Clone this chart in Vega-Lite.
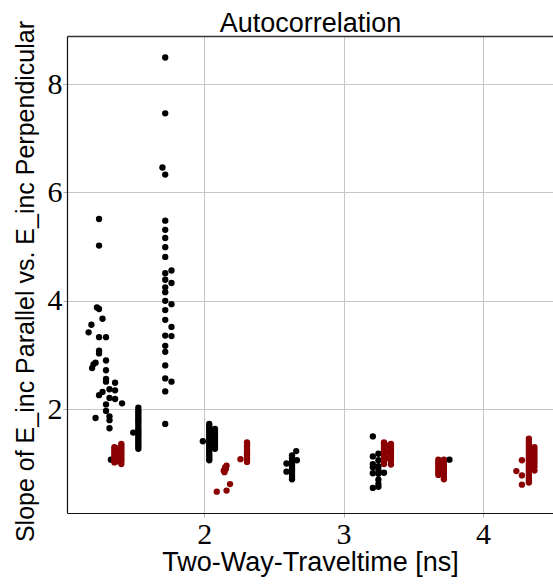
{
  "$schema": "https://vega.github.io/schema/vega-lite/v6.json",
  "width": 486,
  "height": 477,
  "autosize": {"type": "none"},
  "padding": {"left": 67, "top": 36, "right": 0, "bottom": 71},
  "background": "white",
  "config": {
    "view": {"stroke": null},
    "axis": {
      "labelFont": "Liberation Serif", "labelFontSize": 30, "labelColor": "black",
      "gridColor": "#c6c6c6", "gridWidth": 1,
      "tickColor": "#b0b0b0", "tickSize": 4, "tickWidth": 1,
      "domainColor": "#111111", "domainWidth": 1.2,
      "titleFont": "Liberation Sans", "titleFontWeight": "normal", "titleColor": "black"
    }
  },
  "data": {"values": [
    {"t":1.245,"slope":5.51,"g":"s1"},{"t":1.245,"slope":5.02,"g":"s1"},{"t":1.23,"slope":3.88,"g":"s1"},{"t":1.245,"slope":3.85,"g":"s1"},
    {"t":1.27,"slope":3.67,"g":"s1"},{"t":1.19,"slope":3.56,"g":"s1"},{"t":1.17,"slope":3.42,"g":"s1"},{"t":1.245,"slope":3.33,"g":"s1"},
    {"t":1.295,"slope":3.33,"g":"s1"},{"t":1.245,"slope":3.08,"g":"s1"},{"t":1.245,"slope":3.03,"g":"s1"},{"t":1.295,"slope":2.90,"g":"s1"},
    {"t":1.22,"slope":2.86,"g":"s1"},{"t":1.205,"slope":2.83,"g":"s1"},{"t":1.195,"slope":2.76,"g":"s1"},{"t":1.295,"slope":2.72,"g":"s1"},
    {"t":1.295,"slope":2.56,"g":"s1"},{"t":1.295,"slope":2.51,"g":"s1"},{"t":1.36,"slope":2.49,"g":"s1"},{"t":1.32,"slope":2.37,"g":"s1"},
    {"t":1.36,"slope":2.35,"g":"s1"},{"t":1.27,"slope":2.32,"g":"s1"},{"t":1.245,"slope":2.26,"g":"s1"},{"t":1.32,"slope":2.21,"g":"s1"},
    {"t":1.36,"slope":2.19,"g":"s1"},{"t":1.41,"slope":2.11,"g":"s1"},{"t":1.295,"slope":2.09,"g":"s1"},{"t":1.295,"slope":1.97,"g":"s1"},
    {"t":1.22,"slope":1.84,"g":"s1"},{"t":1.32,"slope":1.87,"g":"s1"},{"t":1.32,"slope":1.80,"g":"s1"},{"t":1.32,"slope":1.65,"g":"s1"},
    {"t":1.33,"slope":1.07,"g":"s1"},
    {"t":1.527,"slope":2.03,"g":"s1"},{"t":1.527,"slope":1.98,"g":"s1"},{"t":1.527,"slope":1.94,"g":"s1"},{"t":1.527,"slope":1.90,"g":"s1"},
    {"t":1.527,"slope":1.86,"g":"s1"},{"t":1.527,"slope":1.82,"g":"s1"},{"t":1.527,"slope":1.79,"g":"s1"},{"t":1.527,"slope":1.75,"g":"s1"},
    {"t":1.527,"slope":1.71,"g":"s1"},{"t":1.527,"slope":1.66,"g":"s1"},{"t":1.527,"slope":1.62,"g":"s1"},{"t":1.527,"slope":1.58,"g":"s1"},
    {"t":1.527,"slope":1.55,"g":"s1"},{"t":1.527,"slope":1.51,"g":"s1"},{"t":1.527,"slope":1.47,"g":"s1"},{"t":1.527,"slope":1.43,"g":"s1"},
    {"t":1.527,"slope":1.39,"g":"s1"},{"t":1.527,"slope":1.35,"g":"s1"},{"t":1.527,"slope":1.31,"g":"s1"},{"t":1.527,"slope":1.27,"g":"s1"},
    {"t":1.49,"slope":1.57,"g":"s1"},
    {"t":1.72,"slope":8.49,"g":"s1"},{"t":1.72,"slope":7.46,"g":"s1"},{"t":1.70,"slope":6.46,"g":"s1"},{"t":1.72,"slope":6.33,"g":"s1"},
    {"t":1.72,"slope":5.48,"g":"s1"},{"t":1.72,"slope":5.31,"g":"s1"},{"t":1.72,"slope":5.16,"g":"s1"},{"t":1.72,"slope":4.99,"g":"s1"},
    {"t":1.72,"slope":4.81,"g":"s1"},{"t":1.765,"slope":4.56,"g":"s1"},{"t":1.72,"slope":4.51,"g":"s1"},{"t":1.72,"slope":4.39,"g":"s1"},
    {"t":1.765,"slope":4.33,"g":"s1"},{"t":1.72,"slope":4.25,"g":"s1"},{"t":1.72,"slope":4.16,"g":"s1"},{"t":1.72,"slope":4.00,"g":"s1"},
    {"t":1.765,"slope":3.94,"g":"s1"},{"t":1.72,"slope":3.83,"g":"s1"},{"t":1.72,"slope":3.65,"g":"s1"},{"t":1.765,"slope":3.52,"g":"s1"},
    {"t":1.72,"slope":3.36,"g":"s1"},{"t":1.765,"slope":3.35,"g":"s1"},{"t":1.72,"slope":3.17,"g":"s1"},{"t":1.72,"slope":3.06,"g":"s1"},
    {"t":1.72,"slope":2.81,"g":"s1"},{"t":1.72,"slope":2.57,"g":"s1"},{"t":1.765,"slope":2.51,"g":"s1"},{"t":1.72,"slope":2.33,"g":"s1"},
    {"t":1.72,"slope":1.73,"g":"s1"},
    {"t":2.036,"slope":1.73,"g":"s1"},{"t":2.036,"slope":1.69,"g":"s1"},{"t":2.036,"slope":1.65,"g":"s1"},{"t":2.036,"slope":1.61,"g":"s1"},
    {"t":2.036,"slope":1.57,"g":"s1"},{"t":2.036,"slope":1.53,"g":"s1"},{"t":2.036,"slope":1.49,"g":"s1"},{"t":2.036,"slope":1.45,"g":"s1"},
    {"t":2.036,"slope":1.41,"g":"s1"},{"t":2.036,"slope":1.37,"g":"s1"},{"t":2.036,"slope":1.33,"g":"s1"},{"t":2.036,"slope":1.29,"g":"s1"},
    {"t":2.036,"slope":1.25,"g":"s1"},{"t":2.036,"slope":1.21,"g":"s1"},{"t":2.036,"slope":1.17,"g":"s1"},{"t":2.036,"slope":1.13,"g":"s1"},
    {"t":2.036,"slope":1.09,"g":"s1"},{"t":2.036,"slope":1.06,"g":"s1"},
    {"t":2.077,"slope":1.64,"g":"s1"},{"t":2.077,"slope":1.60,"g":"s1"},{"t":2.077,"slope":1.56,"g":"s1"},{"t":2.077,"slope":1.52,"g":"s1"},
    {"t":2.077,"slope":1.48,"g":"s1"},{"t":2.077,"slope":1.44,"g":"s1"},{"t":2.077,"slope":1.40,"g":"s1"},{"t":2.077,"slope":1.36,"g":"s1"},
    {"t":2.077,"slope":1.32,"g":"s1"},{"t":2.077,"slope":1.27,"g":"s1"},{"t":1.99,"slope":1.41,"g":"s1"},
    {"t":2.63,"slope":1.15,"g":"s1"},{"t":2.63,"slope":1.11,"g":"s1"},{"t":2.63,"slope":1.07,"g":"s1"},{"t":2.63,"slope":1.03,"g":"s1"},
    {"t":2.63,"slope":0.99,"g":"s1"},{"t":2.63,"slope":0.95,"g":"s1"},{"t":2.63,"slope":0.91,"g":"s1"},{"t":2.63,"slope":0.87,"g":"s1"},
    {"t":2.63,"slope":0.83,"g":"s1"},{"t":2.63,"slope":0.79,"g":"s1"},{"t":2.63,"slope":0.75,"g":"s1"},{"t":2.63,"slope":0.71,"g":"s1"},
    {"t":2.59,"slope":1.00,"g":"s1"},{"t":2.59,"slope":0.85,"g":"s1"},{"t":2.66,"slope":1.23,"g":"s1"},{"t":2.665,"slope":1.06,"g":"s1"},
    {"t":3.21,"slope":1.50,"g":"s1"},{"t":3.21,"slope":1.13,"g":"s1"},{"t":3.25,"slope":1.18,"g":"s1"},{"t":3.21,"slope":0.99,"g":"s1"},
    {"t":3.21,"slope":0.93,"g":"s1"},{"t":3.21,"slope":0.82,"g":"s1"},{"t":3.25,"slope":0.81,"g":"s1"},{"t":3.29,"slope":0.83,"g":"s1"},
    {"t":3.25,"slope":0.70,"g":"s1"},{"t":3.25,"slope":0.62,"g":"s1"},{"t":3.21,"slope":0.55,"g":"s1"},{"t":3.25,"slope":0.57,"g":"s1"},
    {"t":3.25,"slope":1.06,"g":"s1"},{"t":3.25,"slope":0.95,"g":"s1"},{"t":3.25,"slope":0.88,"g":"s1"},
    {"t":3.76,"slope":1.07,"g":"s1"},
    {"t":1.355,"slope":1.30,"g":"s2"},{"t":1.355,"slope":1.26,"g":"s2"},{"t":1.355,"slope":1.22,"g":"s2"},{"t":1.355,"slope":1.18,"g":"s2"},
    {"t":1.355,"slope":1.14,"g":"s2"},{"t":1.355,"slope":1.10,"g":"s2"},{"t":1.355,"slope":1.06,"g":"s2"},{"t":1.355,"slope":1.02,"g":"s2"},
    {"t":1.38,"slope":1.28,"g":"s2"},{"t":1.38,"slope":1.20,"g":"s2"},{"t":1.38,"slope":1.12,"g":"s2"},{"t":1.38,"slope":1.04,"g":"s2"},
    {"t":1.405,"slope":1.36,"g":"s2"},{"t":1.405,"slope":1.32,"g":"s2"},{"t":1.405,"slope":1.28,"g":"s2"},{"t":1.405,"slope":1.24,"g":"s2"},
    {"t":1.405,"slope":1.20,"g":"s2"},{"t":1.405,"slope":1.16,"g":"s2"},{"t":1.405,"slope":1.12,"g":"s2"},{"t":1.405,"slope":1.08,"g":"s2"},
    {"t":1.405,"slope":1.04,"g":"s2"},{"t":1.405,"slope":0.99,"g":"s2"},
    {"t":2.16,"slope":0.96,"g":"s2"},{"t":2.15,"slope":0.93,"g":"s2"},{"t":2.155,"slope":0.90,"g":"s2"},{"t":2.14,"slope":0.87,"g":"s2"},
    {"t":2.145,"slope":0.84,"g":"s2"},{"t":2.09,"slope":0.48,"g":"s2"},{"t":2.16,"slope":0.50,"g":"s2"},{"t":2.185,"slope":0.62,"g":"s2"},
    {"t":2.307,"slope":1.39,"g":"s2"},{"t":2.307,"slope":1.35,"g":"s2"},{"t":2.307,"slope":1.31,"g":"s2"},{"t":2.307,"slope":1.27,"g":"s2"},
    {"t":2.307,"slope":1.23,"g":"s2"},{"t":2.307,"slope":1.19,"g":"s2"},{"t":2.307,"slope":1.15,"g":"s2"},{"t":2.307,"slope":1.11,"g":"s2"},
    {"t":2.307,"slope":1.07,"g":"s2"},{"t":2.307,"slope":1.03,"g":"s2"},{"t":2.26,"slope":1.08,"g":"s2"},
    {"t":3.29,"slope":1.39,"g":"s2"},{"t":3.29,"slope":1.35,"g":"s2"},{"t":3.29,"slope":1.31,"g":"s2"},{"t":3.29,"slope":1.27,"g":"s2"},
    {"t":3.29,"slope":1.23,"g":"s2"},{"t":3.29,"slope":1.19,"g":"s2"},{"t":3.29,"slope":1.15,"g":"s2"},{"t":3.29,"slope":1.11,"g":"s2"},
    {"t":3.29,"slope":1.07,"g":"s2"},{"t":3.29,"slope":1.03,"g":"s2"},{"t":3.29,"slope":0.99,"g":"s2"},
    {"t":3.315,"slope":1.33,"g":"s2"},{"t":3.315,"slope":1.22,"g":"s2"},{"t":3.315,"slope":1.10,"g":"s2"},
    {"t":3.34,"slope":1.36,"g":"s2"},{"t":3.34,"slope":1.32,"g":"s2"},{"t":3.34,"slope":1.28,"g":"s2"},{"t":3.34,"slope":1.24,"g":"s2"},
    {"t":3.34,"slope":1.20,"g":"s2"},{"t":3.34,"slope":1.16,"g":"s2"},{"t":3.34,"slope":1.12,"g":"s2"},{"t":3.34,"slope":1.08,"g":"s2"},
    {"t":3.34,"slope":1.04,"g":"s2"},{"t":3.34,"slope":0.98,"g":"s2"},
    {"t":3.68,"slope":1.07,"g":"s2"},{"t":3.68,"slope":1.03,"g":"s2"},{"t":3.68,"slope":0.99,"g":"s2"},{"t":3.68,"slope":0.95,"g":"s2"},
    {"t":3.68,"slope":0.91,"g":"s2"},{"t":3.68,"slope":0.87,"g":"s2"},{"t":3.68,"slope":0.83,"g":"s2"},{"t":3.68,"slope":0.79,"g":"s2"},
    {"t":3.72,"slope":1.07,"g":"s2"},{"t":3.72,"slope":1.03,"g":"s2"},{"t":3.72,"slope":0.99,"g":"s2"},{"t":3.72,"slope":0.95,"g":"s2"},
    {"t":3.72,"slope":0.91,"g":"s2"},{"t":3.72,"slope":0.87,"g":"s2"},{"t":3.72,"slope":0.83,"g":"s2"},{"t":3.72,"slope":0.79,"g":"s2"},
    {"t":3.72,"slope":0.75,"g":"s2"},{"t":3.72,"slope":0.71,"g":"s2"},
    {"t":4.33,"slope":1.46,"g":"s2"},{"t":4.33,"slope":1.41,"g":"s2"},{"t":4.33,"slope":1.37,"g":"s2"},{"t":4.33,"slope":1.33,"g":"s2"},
    {"t":4.33,"slope":1.29,"g":"s2"},{"t":4.33,"slope":1.25,"g":"s2"},{"t":4.33,"slope":1.21,"g":"s2"},{"t":4.33,"slope":1.17,"g":"s2"},
    {"t":4.33,"slope":1.13,"g":"s2"},{"t":4.33,"slope":1.09,"g":"s2"},{"t":4.33,"slope":1.05,"g":"s2"},{"t":4.33,"slope":1.01,"g":"s2"},
    {"t":4.33,"slope":0.97,"g":"s2"},{"t":4.33,"slope":0.93,"g":"s2"},{"t":4.33,"slope":0.89,"g":"s2"},{"t":4.33,"slope":0.85,"g":"s2"},
    {"t":4.33,"slope":0.81,"g":"s2"},{"t":4.33,"slope":0.77,"g":"s2"},{"t":4.33,"slope":0.73,"g":"s2"},{"t":4.33,"slope":0.69,"g":"s2"},
    {"t":4.33,"slope":0.65,"g":"s2"},
    {"t":4.37,"slope":1.30,"g":"s2"},{"t":4.37,"slope":1.24,"g":"s2"},{"t":4.37,"slope":1.18,"g":"s2"},{"t":4.37,"slope":1.12,"g":"s2"},
    {"t":4.37,"slope":1.06,"g":"s2"},{"t":4.37,"slope":1.00,"g":"s2"},{"t":4.37,"slope":0.94,"g":"s2"},{"t":4.37,"slope":0.87,"g":"s2"},
    {"t":4.24,"slope":0.86,"g":"s2"},{"t":4.28,"slope":1.06,"g":"s2"},{"t":4.28,"slope":0.78,"g":"s2"},{"t":4.28,"slope":0.61,"g":"s2"}
  ]},
  "layer": [
    {
      "mark": {"type": "point", "filled": true, "opacity": 1, "size": 40},
      "encoding": {
        "x": {"field": "t", "type": "quantitative",
              "scale": {"domain": [1.015, 4.503], "nice": false, "zero": false},
              "axis": {"values": [2, 3, 4], "format": "d", "labelPadding": 2, "title": "Two-Way-Traveltime [ns]", "titleFontSize": 27, "titlePadding": 0}},
        "y": {"field": "slope", "type": "quantitative",
              "scale": {"domain": [0.087, 8.886], "nice": false, "zero": false},
              "axis": {"values": [2, 4, 6, 8], "format": "d", "labelPadding": 1, "title": "Slope of E_inc Parallel vs. E_inc Perpendicular", "titleFontSize": 25, "titlePadding": 9, "titleY": 245}},
        "color": {"field": "g", "type": "nominal", "scale": {"domain": ["s1", "s2"], "range": ["#000000", "#8b0000"]}, "legend": null}
      }
    },
    {
      "mark": {"type": "point", "opacity": 0},
      "encoding": {
        "x": {"field": "t", "type": "quantitative",
              "axis": {"orient": "top", "labels": false, "ticks": false, "grid": false, "domain": true, "domainColor": "#333333", "domainWidth": 1.5,
                       "title": "Autocorrelation", "titleFontSize": 27, "titleBaseline": "alphabetic", "titlePadding": 5}},
        "y": {"field": "slope", "type": "quantitative"}
      }
    }
  ],
  "resolve": {"axis": {"x": "independent"}}
}
